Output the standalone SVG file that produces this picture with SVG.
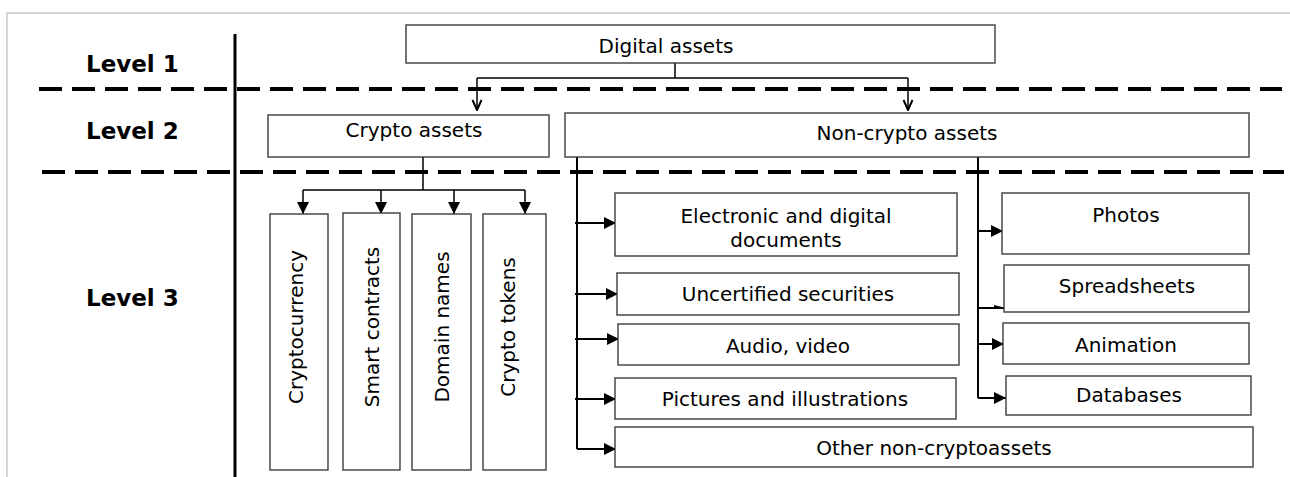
<svg xmlns="http://www.w3.org/2000/svg" width="1290" height="477" viewBox="0 0 1290 477">
<style>
.frame{fill:none;stroke:#d6d6d6;stroke-width:2}
.sep{fill:none;stroke:#000;stroke-width:4;stroke-dasharray:23 10}
.axis{fill:none;stroke:#000;stroke-width:3}
.box{fill:#fff;stroke:#3c3c3c;stroke-width:1.4}
.lbl{font-family:"DejaVu Sans",Verdana,sans-serif;font-size:20px;fill:#000;text-anchor:middle}
.lvl{font-family:"DejaVu Sans",Verdana,sans-serif;font-size:23px;font-weight:bold;fill:#000}
.ln{fill:none;stroke:#000;stroke-width:1.5}
.ln2{fill:none;stroke:#000;stroke-width:2}
</style>
<defs>
<marker id="tri" markerUnits="userSpaceOnUse" markerWidth="12" markerHeight="12" viewBox="0 0 12 12" refX="12" refY="6" orient="auto">
<path d="M0,0 L12,6 L0,12 z" fill="#000"/>
</marker>
<marker id="vee" markerUnits="userSpaceOnUse" markerWidth="12" markerHeight="12" viewBox="0 0 12 12" refX="11" refY="6" orient="auto">
<path d="M1,1.5 L11,6 L1,10.5" fill="none" stroke="#000" stroke-width="2"/>
</marker>
</defs>
<rect width="1290" height="477" fill="#fff"/>
<path class="frame" d="M7,477 V13 H1290"/>
<g id="levels">
<text class="lvl" x="86" y="72">Level 1</text>
<text class="lvl" x="86" y="139">Level 2</text>
<text class="lvl" x="86" y="306">Level 3</text>
<line class="axis" x1="235" y1="34" x2="235" y2="477"/>
<line class="sep" x1="39" y1="89" x2="1282" y2="89"/>
<line class="sep" x1="42" y1="172" x2="1284" y2="172"/>
</g>
<g id="connectors">
<path class="ln" d="M675,63 V78"/>
<path class="ln" d="M477,78 H908"/>
<path class="ln" d="M477,78 V110" marker-end="url(#vee)"/>
<path class="ln" d="M908,78 V110" marker-end="url(#vee)"/>
<path class="ln" d="M423,157 V190 M303,190 H525"/>
<path class="ln" d="M303,190 V214" marker-end="url(#tri)"/>
<path class="ln" d="M381,190 V214" marker-end="url(#tri)"/>
<path class="ln" d="M454,190 V214" marker-end="url(#tri)"/>
<path class="ln" d="M525,190 V214" marker-end="url(#tri)"/>
<path class="ln2" d="M577,157 V449"/>
<path class="ln2" d="M575,223 H616" marker-end="url(#tri)"/>
<path class="ln2" d="M575,294 H618" marker-end="url(#tri)"/>
<path class="ln2" d="M575,339 H619" marker-end="url(#tri)"/>
<path class="ln2" d="M575,399 H616" marker-end="url(#tri)"/>
<path class="ln2" d="M577,449 H616" marker-end="url(#tri)"/>
<path class="ln2" d="M978,157 V398"/>
<path class="ln2" d="M978,231 H1003" marker-end="url(#tri)"/>
<path class="ln2" d="M978,308 H1004"/>
<path d="M994,305 L1004,307.5 L1004,309 L994,309 z" fill="#000"/>
<path class="ln2" d="M978,344 H1004" marker-end="url(#tri)"/>
<path class="ln2" d="M978,398 H1006" marker-end="url(#tri)"/>
</g>
<g id="digital-assets">
<rect class="box" x="406" y="25" width="589" height="38"/>
<text class="lbl" x="666" y="53">Digital assets</text>
</g>
<g id="crypto-assets">
<rect class="box" x="268" y="115" width="281" height="42"/>
<text class="lbl" x="414" y="137">Crypto assets</text>
</g>
<g id="non-crypto-assets">
<rect class="box" x="565" y="113" width="684" height="44"/>
<text class="lbl" x="907" y="140">Non-crypto assets</text>
</g>
<g id="cryptocurrency">
<rect class="box" x="270" y="214" width="58" height="256"/>
<text class="lbl" transform="translate(303,327) rotate(-90)">Cryptocurrency</text>
</g>
<g id="smart-contracts">
<rect class="box" x="343" y="213" width="57" height="257"/>
<text class="lbl" transform="translate(379,327) rotate(-90)">Smart contracts</text>
</g>
<g id="domain-names">
<rect class="box" x="412" y="214" width="59" height="256"/>
<text class="lbl" transform="translate(449,327) rotate(-90)">Domain names</text>
</g>
<g id="crypto-tokens">
<rect class="box" x="483" y="214" width="63" height="256"/>
<text class="lbl" transform="translate(515,327) rotate(-90)">Crypto tokens</text>
</g>
<g id="electronic-documents">
<rect class="box" x="615" y="193" width="342" height="63"/>
<text class="lbl" x="786" y="223">Electronic and digital</text>
<text class="lbl" x="786" y="247">documents</text>
</g>
<g id="uncertified-securities">
<rect class="box" x="617" y="273" width="342" height="42"/>
<text class="lbl" x="788" y="301">Uncertified securities</text>
</g>
<g id="audio-video">
<rect class="box" x="618" y="324" width="341" height="41"/>
<text class="lbl" x="788" y="353">Audio, video</text>
</g>
<g id="pictures-illustrations">
<rect class="box" x="615" y="378" width="341" height="41"/>
<text class="lbl" x="785" y="406">Pictures and illustrations</text>
</g>
<g id="other-non-cryptoassets">
<rect class="box" x="615" y="427" width="638" height="40"/>
<text class="lbl" x="934" y="455">Other non-cryptoassets</text>
</g>
<g id="photos">
<rect class="box" x="1002" y="193" width="247" height="61"/>
<text class="lbl" x="1126" y="222">Photos</text>
</g>
<g id="spreadsheets">
<rect class="box" x="1004" y="265" width="245" height="47"/>
<text class="lbl" x="1127" y="293">Spreadsheets</text>
</g>
<g id="animation">
<rect class="box" x="1003" y="323" width="246" height="41"/>
<text class="lbl" x="1126" y="352">Animation</text>
</g>
<g id="databases">
<rect class="box" x="1006" y="376" width="245" height="39"/>
<text class="lbl" x="1129" y="402">Databases</text>
</g>
</svg>
